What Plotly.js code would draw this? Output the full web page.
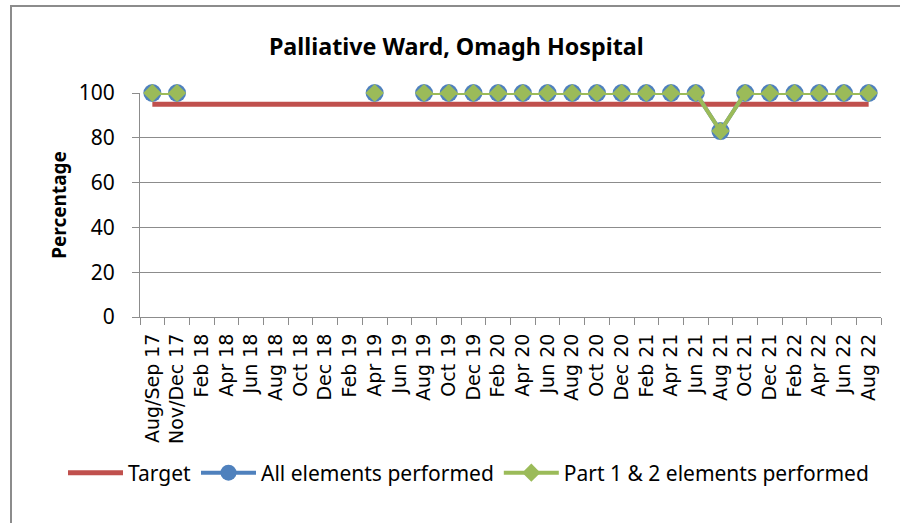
<!DOCTYPE html>
<html>
<head>
<meta charset="utf-8">
<script src="https://cdn.plot.ly/plotly-3.0.1.min.js"></script>
<style>
  html, body { margin: 0; padding: 0; background: #fff; }
  #wrap { position: relative; width: 900px; height: 523px; overflow: hidden; }
  #chart { width: 900px; height: 523px; }
  #frame { position: absolute; left: 10px; top: 5px; width: 1000px; height: 1000px;
           border: 2px solid #8c8c8c; pointer-events: none; }
</style>
</head>
<body>
<div id="wrap">
  <div id="chart"></div>
  <div id="frame"></div>
</div>
<script>
// survey periods
const periods = ['Aug/Sep 17', 'Nov/Dec 17', 'Feb 18', 'Apr 18', 'Jun 18', 'Aug 18', 'Oct 18', 'Dec 18',
  'Feb 19', 'Apr 19', 'Jun 19', 'Aug 19', 'Oct 19', 'Dec 19', 'Feb 20', 'Apr 20', 'Jun 20', 'Aug 20',
  'Oct 20', 'Dec 20', 'Feb 21', 'Apr 21', 'Jun 21', 'Aug 21', 'Oct 21', 'Dec 21', 'Feb 22', 'Apr 22',
  'Jun 22', 'Aug 22'];

const target = [95, 95, 95, 95, 95, 95, 95, 95, 95, 95, 95, 95, 95, 95, 95, 95, 95, 95, 95, 95,
  95, 95, 95, 95, 95, 95, 95, 95, 95, 95];

const allElements = [100, 100, null, null, null, null, null, null, null, 100, null, 100, 100, 100,
  100, 100, 100, 100, 100, 100, 100, 100, 100, 83, 100, 100, 100, 100, 100, 100];

const part12Elements = [100, 100, null, null, null, null, null, null, null, 100, null, 100, 100, 100,
  100, 100, 100, 100, 100, 100, 100, 100, 100, 83, 100, 100, 100, 100, 100, 100];

const gridGrey = '#8c8c8c';
const bodyFont = 'Noto Sans, Open Sans, sans-serif';

const traces = [
  {
    x: periods, y: target, name: 'Target', type: 'scatter', mode: 'lines',
    cliponaxis: false,
    line: { color: '#C0504D', width: 5 }
  },
  {
    x: periods, y: allElements, name: 'All elements performed', type: 'scatter', mode: 'lines+markers',
    connectgaps: false, cliponaxis: false,
    line: { color: '#4F81BD', width: 4 },
    marker: { symbol: 'circle', size: 18, color: '#4F81BD' }
  },
  {
    x: periods, y: part12Elements, name: 'Part 1 & 2 elements performed', type: 'scatter', mode: 'lines+markers',
    connectgaps: false, cliponaxis: false,
    line: { color: '#9BBB59', width: 4 },
    marker: { symbol: 'diamond', size: 14, color: '#9BBB59' }
  }
];

const layout = {
  width: 900,
  height: 523,
  margin: { l: 140, r: 19, t: 93, b: 206 },
  paper_bgcolor: '#fff',
  plot_bgcolor: '#fff',
  font: { family: bodyFont, color: '#000' },
  title: {
    text: '<b>Palliative Ward, Omagh Hospital</b>',
    font: { family: bodyFont, size: 23.3, color: '#000' },
    x: 0.507, xref: 'container', xanchor: 'center',
    y: 1 - 47 / 523, yref: 'container', yanchor: 'middle'
  },
  xaxis: {
    type: 'category',
    range: [-0.5, periods.length - 0.5],
    tickangle: -90,
    tickson: 'boundaries',
    ticks: 'outside', ticklen: 7, tickcolor: gridGrey,
    ticklabelstandoff: 8,
    showline: true, linecolor: gridGrey, linewidth: 1,
    showgrid: false,
    tickfont: { family: 'DejaVu Sans, sans-serif', size: 19, color: '#000' },
    automargin: false
  },
  yaxis: {
    range: [0, 100],
    dtick: 20,
    ticks: 'outside', ticklen: 7, tickcolor: gridGrey,
    ticklabelstandoff: 13,
    showline: true, linecolor: gridGrey, linewidth: 1,
    showgrid: true, gridcolor: gridGrey, gridwidth: 1,
    zeroline: false,
    tickfont: { family: bodyFont, size: 21, color: '#000' },
    title: { text: '<b>Percentage</b>', font: { family: bodyFont, size: 19, color: '#000' }, standoff: 7 },
    automargin: false
  },
  showlegend: true,
  legend: {
    orientation: 'h',
    x: (63 - 140) / 741, xanchor: 'left',
    y: -(473 - 317) / 224, yanchor: 'middle',
    font: { family: bodyFont, size: 21, color: '#000' },
    itemwidth: 55,
    bgcolor: 'rgba(0,0,0,0)'
  }
};

Plotly.newPlot('chart', traces, layout, { displayModeBar: false, staticPlot: true });
</script>
</body>
</html>
